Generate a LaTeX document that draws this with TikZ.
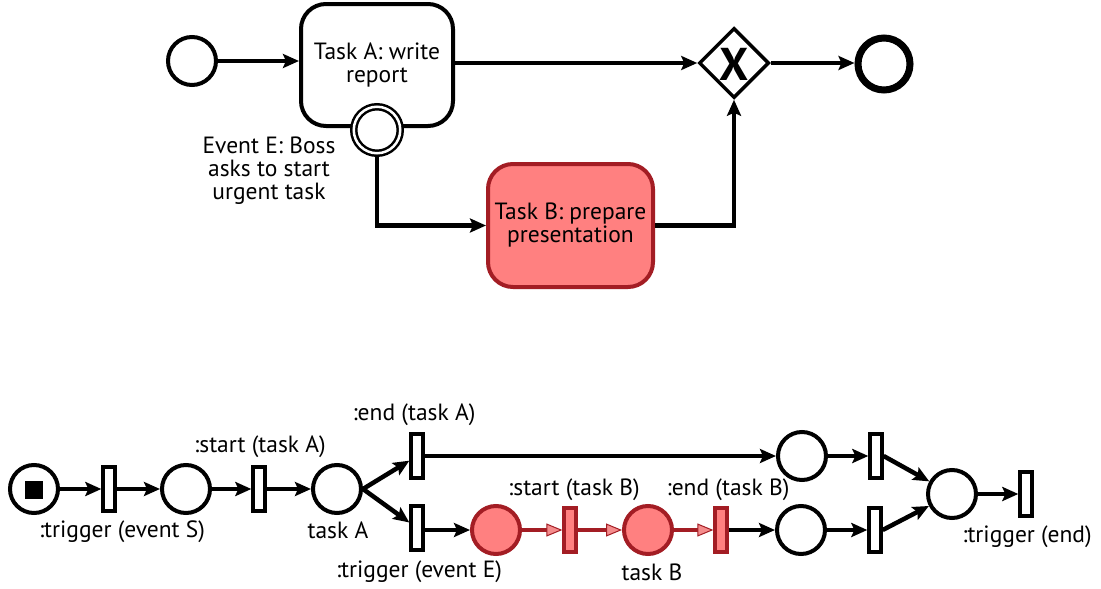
\documentclass[tikz,border=0pt]{standalone}
\usepackage{fontspec}
\setmainfont{PT Sans}
\usetikzlibrary{arrows.meta,shapes.geometric,calc}
\definecolor{rfill}{HTML}{FF8080}
\definecolor{rdraw}{HTML}{A31D24}
\definecolor{rtip}{HTML}{F48C8C}
\begin{document}
\begin{tikzpicture}[x=1pt,y=-1pt,
  every node/.style={font=\fontsize{23.5}{23}\selectfont},
  flow/.style={line width=4.5pt,-{Stealth[length=16pt,width=14pt,inset=3pt]}},
  rflow/.style={draw=rdraw,line width=4.5pt,-{Triangle[length=16pt,width=13pt,fill=rtip,color=rdraw,line width=1pt]}},
  startev/.style={circle,draw,line width=4pt,minimum size=48pt,inner sep=0pt,fill=white},
  taskbox/.style={rectangle,draw,rounded corners=25pt,line width=4pt,minimum width=152pt,minimum height=122pt,align=center,inner sep=0pt,fill=white},
  redtask/.style={taskbox,fill=rfill,draw=rdraw,minimum width=165pt,minimum height=123pt},
  boundary/.style={circle,draw,double,line width=2.5pt,double distance=2.5pt,minimum size=46.5pt,inner sep=0pt,fill=white},
  gateway/.style={diamond,draw,line width=3.5pt,minimum width=70pt,minimum height=70pt,aspect=1,inner sep=0pt,fill=white},
  endev/.style={circle,draw,line width=7pt,minimum size=52pt,inner sep=0pt},
  place/.style={circle,draw,line width=4pt,minimum size=48pt,inner sep=0pt,fill=white},
  rplace/.style={place,fill=rfill,draw=rdraw},
  trans/.style={rectangle,draw,line width=3.8pt,minimum width=11.5pt,minimum height=43.5pt,inner sep=0pt,fill=white},
  rtrans/.style={trans,fill=rfill,draw=rdraw},
  lbl/.style={inner sep=0pt,align=center}
]
\useasboundingbox (0,0) rectangle (1101,589);

% ---------- BPMN part ----------
\node[startev] (s) at (192,61) {};
\node[taskbox] (ta) at (377,65) {Task A: write\\report};
\node[boundary] (ev) at (377,130) {};
\node[lbl] (evl) at (269,171) {Event E: Boss\\asks to start\\urgent task};
\node[redtask] (tb) at (570.5,225.5) {Task B: prepare\\presentation};
\node[gateway] (gw) at (734,63) {};
\node[font=\fontsize{46}{46}\selectfont\bfseries,inner sep=0pt] (gx) at (734,64) {X};
\node[endev] (e) at (884,64) {};

\draw[flow] (s.east) -- (s.east -| ta.west);
\draw[flow] (ta.east |- gw) -- (gw.west);
\draw[flow] (ev.south) |- (tb.west);
\draw[flow] (tb.east) -| (gw.south);
\draw[flow] (gw.east) -- (gw.east -| e.west);

% ---------- Petri net part ----------
\node[place] (ps) at (34,489) {};
\node[fill=black,minimum size=18pt,inner sep=0pt] (tok) at (34,490) {};
\node[trans] (t1) at (109,489) {};
\node[place] (p2) at (186,489) {};
\node[trans] (t2) at (259,489) {};
\node[place] (pa) at (337,489) {};
\node[trans] (tea) at (417,456) {};
\node[trans] (tte) at (417,528) {};
\node[rplace] (pb1) at (496,530) {};
\node[rtrans] (tsb) at (570,530) {};
\node[rplace] (pb) at (648,530) {};
\node[rtrans] (teb) at (721,530) {};
\node[place] (pu) at (802,456) {};
\node[trans] (tu) at (876,456) {};
\node[place] (pl) at (801,530) {};
\node[trans] (tl) at (875,530) {};
\node[place] (pm) at (952,494) {};
\node[trans] (tf) at (1026,494) {};

\node[lbl] (l1) at (122,532) {:trigger (event S)};
\node[lbl] (l2) at (260,447) {:start (task A)};
\node[lbl] (l3) at (338,530) {task A};
\node[lbl] (l4) at (414,415) {:end (task A)};
\node[lbl] (l5) at (419,572) {:trigger (event E)};
\node[lbl] (l6) at (574,490) {:start (task B)};
\node[lbl] (l7) at (652,572) {task B};
\node[lbl] (l8) at (728,490) {:end (task B)};
\node[lbl] (l9) at (1027,537) {:trigger (end)};

\draw[flow] (ps) -- (t1);
\draw[flow] (t1) -- (p2);
\draw[flow] (p2) -- (t2);
\draw[flow] (t2) -- (pa);
\draw[flow] (pa.east) -- (tea);
\draw[flow] (pa.east) -- (tte);
\draw[flow] (tea) -- (tea -| pu.west);
\draw[flow] (tte.east |- pb1) -- (pb1.west);
\draw[rflow] (pb1) -- (pb1 -| tsb.west);
\draw[rflow] (tsb) -- (tsb -| pb.west);
\draw[rflow] (pb) -- (pb -| teb.west);
\draw[flow] (teb) -- (teb -| pl.west);
\draw[flow] (pu) -- (pu -| tu.west);
\draw[flow] (pl) -- (pl -| tl.west);
\draw[flow] (tu.east) -- (pm);
\draw[flow] (tl.east) -- (pm);
\draw[flow] (pm) -- (pm -| tf.west);
\end{tikzpicture}
\end{document}
